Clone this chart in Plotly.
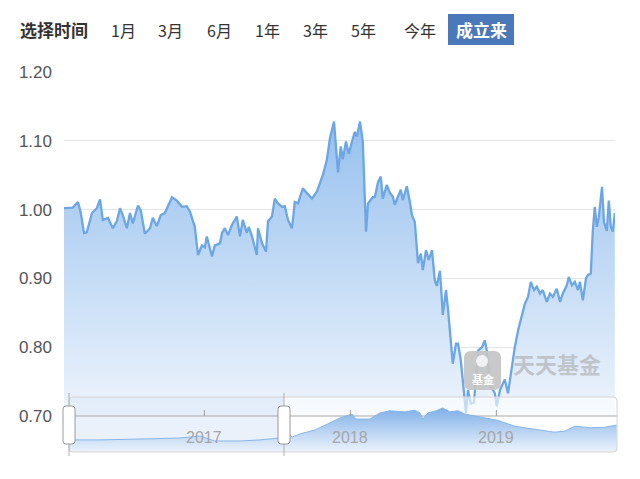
import plotly.graph_objects as go
import pandas as pd

# ---------------- data ----------------
start_date = "2016-01-16"

main_days = [0, 15, 22, 35, 42, 50, 57, 70, 82, 90, 97, 110, 122, 132, 140, 147, 157, 165, 172, 185,
             192, 202, 215, 222, 232, 242, 252, 270, 282, 295, 307, 315, 327, 335, 345, 352, 357, 370,
             377, 390, 395, 402, 410, 420, 432, 440, 447, 457, 462, 470, 482, 485, 495, 505, 510, 520,
             527, 535, 545, 552, 560, 570, 577, 585, 597, 607, 620, 632, 640, 647, 657, 665, 675, 680,
             685, 692, 697, 705, 712, 720, 727, 732, 740, 747, 750, 755, 760, 772, 777, 785, 792, 797,
             807, 815, 822, 827, 835, 842, 847, 857, 865, 870, 877, 885, 892, 897, 905, 912, 920, 927,
             932, 940, 947, 955, 960, 967, 972, 980, 985, 992, 997, 1005, 1010, 1017, 1025, 1035, 1045,
             1052, 1057, 1065, 1077, 1082, 1090, 1102, 1110, 1120, 1127, 1135, 1145, 1152, 1160, 1167,
             1175, 1182, 1190, 1197, 1207, 1215, 1222, 1232, 1240, 1247, 1257, 1262, 1270, 1277, 1285,
             1290, 1297, 1305, 1310, 1317, 1322, 1327, 1332, 1337, 1345, 1350, 1357, 1362, 1367, 1372, 1377]

main_values = [1.002, 1.002, 1.003, 1.011, 0.995, 0.966, 0.967, 0.995, 1.002, 1.015, 0.985, 0.988, 0.973,
               0.983, 1.002, 0.992, 0.973, 0.995, 0.980, 1.006, 0.999, 0.965, 0.973, 0.988, 0.976, 0.992,
               0.995, 1.018, 1.013, 1.004, 1.005, 0.997, 0.975, 0.934, 0.948, 0.945, 0.961, 0.932, 0.948,
               0.951, 0.966, 0.973, 0.963, 0.978, 0.990, 0.961, 0.985, 0.966, 0.975, 0.961, 0.934, 0.973,
               0.951, 0.939, 0.983, 0.990, 1.016, 1.009, 1.004, 1.005, 0.985, 0.973, 1.011, 1.009, 1.031,
               1.024, 1.016, 1.026, 1.038, 1.050, 1.072, 1.104, 1.128, 1.087, 1.054, 1.092, 1.073, 1.099,
               1.081, 1.099, 1.113, 1.106, 1.128, 1.099, 1.049, 0.968, 1.009, 1.018, 1.018, 1.040, 1.048,
               1.016, 1.036, 1.024, 1.019, 1.007, 1.019, 1.029, 1.014, 1.034, 1.010, 0.992, 0.982, 0.922,
               0.936, 0.912, 0.941, 0.927, 0.941, 0.897, 0.889, 0.911, 0.847, 0.883, 0.855, 0.815, 0.776,
               0.805, 0.805, 0.781, 0.747, 0.704, 0.738, 0.718, 0.720, 0.795, 0.800, 0.810, 0.795, 0.747,
               0.733, 0.714, 0.738, 0.753, 0.733, 0.777, 0.800, 0.824, 0.849, 0.863, 0.873, 0.895, 0.883,
               0.888, 0.878, 0.883, 0.866, 0.878, 0.873, 0.885, 0.866, 0.878, 0.890, 0.902, 0.890, 0.895,
               0.883, 0.895, 0.868, 0.900, 0.905, 0.907, 0.969, 1.004, 0.975, 0.989, 1.033, 0.982, 0.969,
               1.013, 0.975, 0.968, 0.995]

nav_days = [12, 90, 215, 290, 340, 377, 440, 490, 540, 555, 560, 570, 590, 627, 665, 690, 720, 730, 765,
            790, 815, 852, 877, 890, 897, 910, 930, 947, 965, 985, 1002, 1027, 1052, 1082, 1102, 1127,
            1152, 1190, 1227, 1252, 1277, 1315, 1352, 1382]
nav_values = [0.22, 0.22, 0.24, 0.255, 0.29, 0.20, 0.20, 0.22, 0.255, 0.38, 0.36, 0.27, 0.33, 0.40,
              0.53, 0.62, 0.69, 0.60, 0.60, 0.71, 0.75, 0.73, 0.76, 0.71, 0.60, 0.71, 0.75, 0.80, 0.73,
              0.75, 0.69, 0.65, 0.62, 0.58, 0.53, 0.47, 0.44, 0.40, 0.36, 0.38, 0.47, 0.44, 0.45, 0.49]

y_tickvals = [0.70, 0.80, 0.90, 1.00, 1.10, 1.20]
y_ticktext = ["0.70", "0.80", "0.90", "1.00", "1.10", "1.20"]
year_labels = ["2017", "2018", "2019"]
year_dates = ["2017-01-01", "2018-01-01", "2019-01-01"]
title_label = "选择时间"
range_buttons = ["1月", "3月", "6月", "1年", "3年", "5年", "今年"]
active_button = "成立来"
handle_days = [12.5, 550]
main_span_days = 1377.5
nav_span_days = [12.5, 1382.5]

# ---------------- layout helpers ----------------
W, H = 640, 479
OFF = 8  # page body margin offset in the browser
base = pd.Timestamp(start_date)
main_dates = base + pd.to_timedelta(main_days, unit="D")
nav_dates = base + pd.to_timedelta(nav_days, unit="D")


def px(x):
    return (x - OFF) / W


def py(y):
    return 1 - (y - OFF) / H


def rrect(x0, y0, x1, y1, r):
    return (f"M {px(x0 + r)},{py(y0)} L {px(x1 - r)},{py(y0)} Q {px(x1)},{py(y0)} {px(x1)},{py(y0 + r)} "
            f"L {px(x1)},{py(y1 - r)} Q {px(x1)},{py(y1)} {px(x1 - r)},{py(y1)} "
            f"L {px(x0 + r)},{py(y1)} Q {px(x0)},{py(y1)} {px(x0)},{py(y1 - r)} "
            f"L {px(x0)},{py(y0 + r)} Q {px(x0)},{py(y0)} {px(x0 + r)},{py(y0)} Z")


CJK = "Noto Sans CJK SC"
NUM = "Liberation Sans, Arial, sans-serif"

fig = go.Figure()

fig.add_trace(go.Scatter(
    x=main_dates, y=main_values, mode="lines",
    line=dict(color="#6ca6e4", width=2.3),
    fill="tozeroy",
    fillgradient=dict(type="vertical", start=0.70, stop=1.13,
                      colorscale=[[0, "rgb(238,244,252)"], [1, "rgb(150,192,238)"]]),
    hoverinfo="skip", showlegend=False, xaxis="x", yaxis="y"))

fig.add_trace(go.Scatter(
    x=nav_dates, y=nav_values, mode="lines",
    line=dict(color="#86b6ea", width=1),
    fill="tozeroy",
    fillgradient=dict(type="vertical", start=0, stop=0.8,
                      colorscale=[[0, "rgb(236,243,252)"], [1, "rgb(128,176,232)"]]),
    hoverinfo="skip", showlegend=False, xaxis="x2", yaxis="y2"))

nav_x0 = base + pd.Timedelta(days=nav_span_days[0])
nav_x1 = base + pd.Timedelta(days=nav_span_days[1])
handle_dates = [base + pd.Timedelta(days=d) for d in handle_days]

shapes = []
shapes.append(dict(type="rect", xref="x2", yref="y2", layer="below", x0=nav_x0, x1=nav_x1, y0=0, y1=1,
                   fillcolor="rgba(255,255,255,0.6)", line=dict(width=0)))
shapes.append(dict(type="rect", xref="x2", yref="y2", layer="below", x0=handle_dates[0], x1=handle_dates[1],
                   y0=0, y1=1, fillcolor="rgba(170,200,238,0.25)", line=dict(width=0)))
shapes.append(dict(type="line", xref="x2", yref="y2", layer="below", x0=nav_x0, x1=nav_x1,
                   y0=(452 - 416) / 55, y1=(452 - 416) / 55, line=dict(color="#a8a8a8", width=1)))
shapes.append(dict(type="path", xref="paper", yref="paper", path=rrect(69, 397, 617, 452, 4),
                   line=dict(color="#d4d4d4", width=1), fillcolor="rgba(0,0,0,0)", layer="above"))
for d in year_dates:
    shapes.append(dict(type="line", xref="x2", yref="paper", x0=d, x1=d, y0=py(410), y1=py(416),
                       line=dict(color="#a0a0a0", width=1), layer="above"))
for hx in [69, 284]:
    shapes.append(dict(type="line", xref="paper", yref="paper", x0=px(hx), x1=px(hx), y0=py(393), y1=py(456),
                       line=dict(color="#b0b0b0", width=1), layer="above"))
    shapes.append(dict(type="path", xref="paper", yref="paper", path=rrect(hx - 6, 406, hx + 6, 444, 3),
                       fillcolor="#ffffff", line=dict(color="#9a9a9a", width=1), layer="above"))
shapes.append(dict(type="rect", xref="paper", yref="paper", x0=px(448), x1=px(514), y0=py(45), y1=py(14),
                   fillcolor="#4a78b8", line=dict(width=0), layer="above"))
shapes.append(dict(type="path", xref="paper", yref="paper", path=rrect(464, 351, 501, 390, 7),
                   fillcolor="rgba(196,196,196,0.92)", line=dict(width=0), layer="above"))
shapes.append(dict(type="circle", xref="paper", yref="paper", x0=px(476), x1=px(488), y0=py(367), y1=py(355),
                   fillcolor="rgba(255,255,255,0.75)", line=dict(width=0), layer="above"))

annotations = []
annotations.append(dict(text=f"<b>{title_label}</b>", xref="paper", yref="paper", x=px(18), y=py(30),
                        xanchor="left", yanchor="middle", showarrow=False,
                        font=dict(family=CJK, size=17, color="#333333")))
button_x = [123, 170, 219, 267, 315, 363, 420]
for t, bx in zip(range_buttons, button_x):
    annotations.append(dict(text=t, xref="paper", yref="paper", x=px(bx), y=py(30),
                            xanchor="center", yanchor="middle", showarrow=False,
                            font=dict(family=CJK, size=16, color="#333333")))
annotations.append(dict(text=f"<b>{active_button}</b>", xref="paper", yref="paper", x=px(481), y=py(30),
                        xanchor="center", yanchor="middle", showarrow=False,
                        font=dict(family=CJK, size=17, color="#ffffff")))
for lbl, d in zip(year_labels, year_dates):
    annotations.append(dict(text=lbl, xref="x2", yref="paper", x=d, y=py(437),
                            xanchor="center", yanchor="middle", showarrow=False,
                            font=dict(family=NUM, size=16, color="#a6a6a6")))
annotations.append(dict(text="<b>基金</b>", xref="paper", yref="paper", x=px(482.5), y=py(379),
                        xanchor="center", yanchor="middle", showarrow=False,
                        font=dict(family=CJK, size=11, color="#ffffff")))
annotations.append(dict(text="<b>天天基金</b>", xref="paper", yref="paper", x=px(557), y=py(363),
                        xanchor="center", yanchor="middle", showarrow=False,
                        font=dict(family=CJK, size=22, color="rgba(170,170,170,0.6)")))

fig.update_layout(
    width=W, height=H,
    margin=dict(l=0, r=0, t=0, b=0, pad=0, autoexpand=False),
    paper_bgcolor="#ffffff", plot_bgcolor="rgba(0,0,0,0)",
    showlegend=False,
    xaxis=dict(domain=[px(64), px(615)], range=[base, base + pd.Timedelta(days=main_span_days)],
               visible=False, fixedrange=True, automargin=False),
    yaxis=dict(domain=[py(416), py(72)], range=[0.70, 1.20], tickvals=y_tickvals, ticktext=y_ticktext,
               showgrid=True, gridcolor="#e6e6e6", gridwidth=1, zeroline=False, showline=False,
               ticks="", ticklabelstandoff=11, tickfont=dict(family=NUM, size=17, color="#555555"),
               fixedrange=True, automargin=False),
    xaxis2=dict(domain=[px(69), px(617)], range=[nav_x0, nav_x1], visible=False, anchor="y2",
                fixedrange=True, automargin=False),
    yaxis2=dict(domain=[py(452), py(397)], range=[0, 1], visible=False, anchor="x2", fixedrange=True,
                automargin=False),
    shapes=shapes,
    annotations=annotations,
)

fig.write_html("out.html")
